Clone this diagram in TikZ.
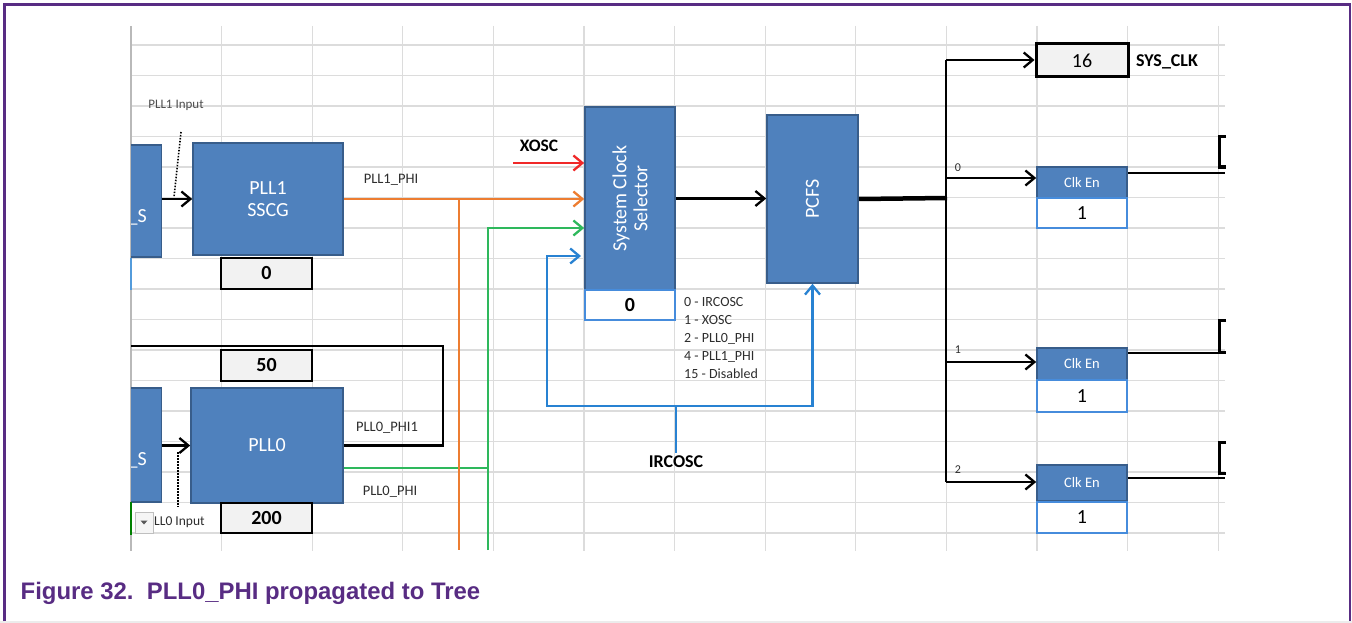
\documentclass[tikz,border=0pt]{standalone}
\usepackage{fontspec}
\setmainfont{Carlito}
\newfontfamily\capfont{Liberation Sans}
\usetikzlibrary{arrows.meta}
\definecolor{blkfill}{RGB}{79,129,189}
\definecolor{blkdraw}{RGB}{56,93,138}
\definecolor{gridc}{RGB}{220,220,220}
\definecolor{orangec}{RGB}{237,125,49}
\definecolor{greenc}{RGB}{46,184,92}
\definecolor{redc}{RGB}{240,40,40}
\definecolor{bluec}{RGB}{40,130,210}
\definecolor{valdraw}{RGB}{70,140,220}
\definecolor{purplec}{RGB}{88,44,131}
\definecolor{boxfill}{RGB}{242,242,242}
\definecolor{txtc}{RGB}{45,45,45}
\newcommand{\myfs}[1]{\fontsize{#1pt}{#1pt}\selectfont}
\begin{document}
\begin{tikzpicture}[x=1pt,y=-1pt,
  blk/.style={draw=blkdraw, fill=blkfill, line width=1.6pt, text=white, inner sep=0pt, font=\myfs{20}},
  clkhdr/.style={blk, font=\myfs{14.5}},
  valbox/.style={draw=black, fill=boxfill, line width=2.6pt, inner sep=0pt, font=\myfs{20}\bfseries},
  selbox/.style={draw=valdraw, fill=white, line width=2pt, inner sep=0pt, font=\myfs{20}},
  tip/.style={-{Straight Barb[length=9pt,width=15pt]}},
  wire/.style={line width=2.3pt},
  lbl/.style={font=\myfs{14.5}, text=txtc, inner sep=0pt},
  gridl/.style={gridc, line width=1.2pt}
]
\useasboundingbox (0,0) rectangle (1352,623);
% grid
\foreach \k in {0,...,16} \draw[gridl] (131,{45+30.5*\k}) -- (1225,{45+30.5*\k});
\foreach \k in {1,...,12} \draw[gridl] ({131+90.6*\k},26) -- ({131+90.6*\k},551);
\draw[gray!55, line width=1.5pt] (131,26) -- (131,551);

% partial source blocks (clipped at the grid edge)
\begin{scope}
  \clip (131,0) rectangle (400,623);
  \node[blk, minimum width=61pt, minimum height=112pt] (srcA) at (131,201) {};
  \node[blk, minimum width=61pt, minimum height=114pt] (srcB) at (131,445) {};
  \node[anchor=east, text=white, font=\myfs{20}, inner sep=0pt] (tsA) at (147,217) {\_S};
  \node[anchor=east, text=white, font=\myfs{20}, inner sep=0pt] (tsB) at (147,460) {\_S};
\end{scope}
\draw[bluec!80, line width=1.5pt] (131,258) -- (131,290);
\draw[green!50!black, line width=1.5pt] (131,502) -- (131,535);

% blocks
\node[blk, minimum width=150pt, minimum height=112pt, align=center] (pll1) at (268,199) {PLL1\\[2pt]SSCG};
\node[valbox, minimum width=91pt, minimum height=31pt] (box0a) at (266.5,273.5) {0};
\node[blk, minimum width=152pt, minimum height=115pt] (pll0) at (267,445.5) {PLL0};
\node[valbox, minimum width=91pt, minimum height=31pt] (box50) at (266.5,365.5) {50};
\node[valbox, minimum width=91pt, minimum height=30pt] (box200) at (266.5,518) {200};
\node[blk, minimum width=90pt, minimum height=183pt] (scs) at (630,198.5) {};
\node[text=white, rotate=90, align=center, font=\myfs{20}, inner sep=0pt] (tscs) at (scs.center) {System Clock\\[1pt]Selector};
\node[selbox, minimum width=90pt, minimum height=30pt, font=\myfs{20}\bfseries] (box0b) at (630,305) {0};
\node[blk, minimum width=91pt, minimum height=168pt] (pcfs) at (812.5,199) {};
\node[text=white, rotate=90, font=\myfs{20}, inner sep=0pt] (tpcfs) at (pcfs.center) {PCFS};
\node[valbox, line width=3pt, minimum width=92pt, minimum height=33pt, font=\myfs{20}] (box16) at (1082,60.5) {16};
\node[clkhdr, minimum width=90pt, minimum height=31pt] (clk0) at (1082,182.5) {Clk En};
\node[selbox, minimum width=90pt, minimum height=30pt] (val0) at (1082,213) {1};
\node[clkhdr, minimum width=90pt, minimum height=32pt] (clk1) at (1082,364) {Clk En};
\node[selbox, minimum width=90pt, minimum height=32pt] (val1) at (1082,396) {1};
\node[clkhdr, minimum width=90pt, minimum height=36pt] (clk2) at (1082,483) {Clk En};
\node[selbox, minimum width=90pt, minimum height=31pt] (val2) at (1082,517.5) {1};

% labels
\node[lbl, font=\myfs{13}, text=gray!60!black] (t1in) at (176,105) {PLL1 Input};
\node[lbl] (tphi1) at (391,180) {PLL1\_PHI};
\node[lbl] (tphi01) at (387,428) {PLL0\_PHI1};
\node[lbl] (tphi0) at (390,492) {PLL0\_PHI};
\node[font=\myfs{17.5}\bfseries, inner sep=0pt] (txosc) at (539,146) {XOSC};
\node[font=\myfs{18}\bfseries, inner sep=3pt] (irc) at (676,462) {IRCOSC};
\node[font=\myfs{18}\bfseries, anchor=west, inner sep=0pt] (tsys) at (1136,62) {SYS\_CLK};
\node[lbl, anchor=north west, align=left, font={\fontsize{14pt}{18pt}\selectfont}] (leg) at (684,297)
  {0 - IRCOSC\\1 - XOSC\\2 - PLL0\_PHI\\4 - PLL1\_PHI\\15 - Disabled};
\node[lbl, font=\myfs{12}] (n0) at (958,168) {0};
\node[lbl, font=\myfs{12}] (n1) at (958,350) {1};
\node[lbl, font=\myfs{12}] (n2) at (958,470) {2};

% dropdown button and PLL0 input label
\node[draw=gray!50, fill=gray!8, minimum width=18pt, minimum height=21pt, inner sep=0pt] (dd) at (144,522.5) {};
\fill[gray!70!black] (140.5,520.5) -- (147.5,520.5) -- (144,524.5) -- cycle;
\node[anchor=west, font=\myfs{13.5}, text=txtc, inner sep=0pt] (t0in) at (154,522) {LL0 Input};

% coordinates
\coordinate (oj) at (459,199);
\coordinate (ob) at (459,550);
\coordinate (gb) at (488,550);
\coordinate (gt) at (488,228);
\coordinate (gj) at (488,468);
\coordinate (lp) at (443,346);
\coordinate (lpend) at (131,346);
\coordinate (xs) at (513,163);
\coordinate (bj) at (676,406);
\coordinate (bl) at (547,406);
\coordinate (bt) at (547,256);
\coordinate (bte) at (581,256);
\coordinate (br) at (812.5,406);
\coordinate (busT) at (946,60);
\coordinate (busJ) at (947,198);
\coordinate (bus0) at (946,178);
\coordinate (bus1) at (946,362);
\coordinate (bus2) at (946,482);
\coordinate (r0) at (1225,173);
\coordinate (r1) at (1225,353);
\coordinate (r2) at (1225,478);
\coordinate (dA) at (181,132);
\coordinate (dA2) at (174,197);
\coordinate (dB) at (178,452);
\coordinate (dB2) at (178,507);

% connectors
\draw[wire,tip] (srcA.east |- pll1.west) -- (pll1.west);
\draw[wire,tip] (srcB.east |- pll0.west) -- (pll0.west);
\draw[line width=1.6pt, dash pattern=on 1.5pt off 1.5pt] (dA) -- (dA2);
\draw[line width=1.6pt, dash pattern=on 1.5pt off 1.5pt] (dB) -- (dB2);
\draw[greenc,wire] (pll0.east |- gj) -- (gj);
\draw[orangec,wire,tip] (pll1.east) -- (scs.west |- pll1.east);
\draw[orangec,wire] (oj) -- (ob);
\draw[greenc,wire,tip] (gb) -- (gt) -- (scs.west |- gt);
\draw[wire] (pll0.east) -| (lp) -- (lpend);
\draw[redc,wire,tip] (xs) -- (scs.west |- xs);
\draw[wire,tip] (scs.east) -- (pcfs.west |- scs.east);
\draw[bluec,wire] (irc.north) -- (bj);
\draw[bluec,wire,tip] (bj) -- (bl) -- (bt) -- (bte);
\draw[bluec,wire,tip] (bj) -- (br) -- (pcfs.south);
\draw[line width=4.5pt] (pcfs.east) -- (busJ);
\draw[wire] (busT) -- (bus2);
\draw[wire,tip] (busT) -- (box16.west |- busT);
\draw[wire,tip] (bus0) -- (clk0.west |- bus0);
\draw[wire,tip] (bus1) -- (clk1.west |- bus1);
\draw[wire,tip] (bus2) -- (clk2.west |- bus2);
\draw[line width=1.8pt] (clk0.east |- r0) -- (r0);
\draw[line width=1.8pt] (clk1.east |- r1) -- (r1);
\draw[line width=1.8pt] (clk2.east |- r2) -- (r2);
% clipped boxes at the right edge
\draw[line width=3pt] (1226,137) -- (1219.5,137) -- (1219.5,167) -- (1226,167);
\draw[line width=3pt] (1226,320) -- (1219.5,320) -- (1219.5,352) -- (1226,352);
\draw[line width=3pt] (1226,442) -- (1219.5,442) -- (1219.5,473) -- (1226,473);

% caption and frame
\node[anchor=base west, inner sep=0pt, text=purplec, font=\capfont\bfseries\myfs{23.9}] (cap) at (20.5,599.5) {Figure 32.\ \ PLL0\_PHI propagated to Tree};
\draw[gray!15, line width=2pt] (0,622) -- (1352,622);
\draw[purplec, line width=2.6pt] (4.5,621) -- (4.5,4.5) -- (1350,4.5) -- (1350,621);
\end{tikzpicture}
\end{document}
